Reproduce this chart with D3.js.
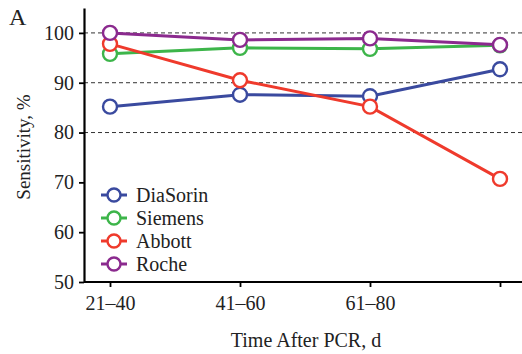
<!DOCTYPE html>
<html>
<head>
<meta charset="utf-8">
<script src="https://cdn.jsdelivr.net/npm/d3@7"></script>
<style>
  body { margin: 0; background: #fff; }
  svg text { font-family: "Liberation Serif", "Times New Roman", "DejaVu Serif", serif !important; }
</style>
</head>
<body>
<div id="chart"></div>
<script>
// Data
const periods = ["21–40", "41–60", "61–80", ""];
const yTicks = [50, 60, 70, 80, 90, 100];
const gridValues = [80, 90, 100];

const assays = ["DiaSorin", "Siemens", "Abbott", "Roche"];
const colors = ["#3a4a9f", "#3db54a", "#ef3a2c", "#8b2a8e"];

const diasorin = [85.2, 87.6, 87.3, 92.7];
const siemens = [95.8, 97.0, 96.8, 97.5];
const abbott = [97.8, 90.5, 85.2, 70.7];
const roche = [100, 98.6, 98.9, 97.6];

const seriesValues = [diasorin, siemens, abbott, roche];

const width = 522, height = 354;
const margin = { top: 8, right: 0, bottom: 72, left: 84 };
const serif = "'Liberation Serif', 'Times New Roman', 'DejaVu Serif', serif";

const svg = d3.select("#chart").append("svg")
  .attr("width", width)
  .attr("height", height)
  .attr("font-family", serif);

const x = d3.scalePoint()
  .domain(periods)
  .range([110, 500]);

const y = d3.scaleLinear()
  .domain([50, 105])
  .range([height - margin.bottom, margin.top]);

// dashed gridlines
svg.append("g")
  .selectAll("line")
  .data(gridValues)
  .enter()
  .append("line")
  .attr("x1", margin.left)
  .attr("x2", width)
  .attr("y1", d => y(d))
  .attr("y2", d => y(d))
  .attr("stroke", "#333")
  .attr("stroke-width", 1)
  .attr("stroke-dasharray", "4,3");

// axes
const xAxis = svg.append("g")
  .attr("transform", `translate(0,${y(50)})`)
  .call(d3.axisBottom(x).tickSize(5).tickPadding(9).tickSizeOuter(0));
xAxis.select(".domain").attr("d", `M${margin.left},0H${width}`);

const yAxis = svg.append("g")
  .attr("transform", `translate(${margin.left},0)`)
  .call(d3.axisLeft(y).tickValues(yTicks).tickSize(5).tickPadding(5).tickSizeOuter(0));

xAxis.attr("font-family", serif).attr("font-size", 20);
yAxis.attr("font-family", serif).attr("font-size", 20);
svg.selectAll(".domain").attr("stroke", "#000").attr("stroke-width", 2.2);
svg.selectAll(".tick line").attr("stroke", "#000").attr("stroke-width", 1.8);
svg.selectAll(".tick text").attr("fill", "#222");

// lines and markers
const line = d3.line()
  .x((d, i) => x(periods[i]))
  .y(d => y(d));

seriesValues.forEach((vals, s) => {
  svg.append("path")
    .datum(vals)
    .attr("d", line)
    .attr("fill", "none")
    .attr("stroke", colors[s])
    .attr("stroke-width", 3);
});

seriesValues.forEach((vals, s) => {
  svg.append("g")
    .selectAll("circle")
    .data(vals)
    .enter()
    .append("circle")
    .attr("cx", (d, i) => x(periods[i]))
    .attr("cy", d => y(d))
    .attr("r", 7)
    .attr("fill", "#fff")
    .attr("stroke", colors[s])
    .attr("stroke-width", 2.4);
});

// legend
const legend = svg.append("g");
assays.forEach((name, i) => {
  const ly = 195 + i * 23;
  legend.append("line")
    .attr("x1", 101).attr("x2", 127)
    .attr("y1", ly).attr("y2", ly)
    .attr("stroke", colors[i]).attr("stroke-width", 3);
  legend.append("circle")
    .attr("cx", 114).attr("cy", ly).attr("r", 6.5)
    .attr("fill", "#fff").attr("stroke", colors[i]).attr("stroke-width", 2.4);
  legend.append("text")
    .attr("x", 136).attr("y", ly + 7)
    .attr("font-size", 20)
    .attr("fill", "#222")
    .text(name);
});

// titles
svg.append("text")
  .attr("x", 9).attr("y", 25)
  .attr("font-size", 24)
  .attr("fill", "#222")
  .text("A");

svg.append("text")
  .attr("transform", "translate(30,147) rotate(-90)")
  .attr("text-anchor", "middle")
  .attr("font-size", 19)
  .attr("fill", "#222")
  .text("Sensitivity, %");

svg.append("text")
  .attr("x", 306).attr("y", 347)
  .attr("text-anchor", "middle")
  .attr("font-size", 20)
  .attr("fill", "#222")
  .text("Time After PCR, d");
</script>
</body>
</html>
